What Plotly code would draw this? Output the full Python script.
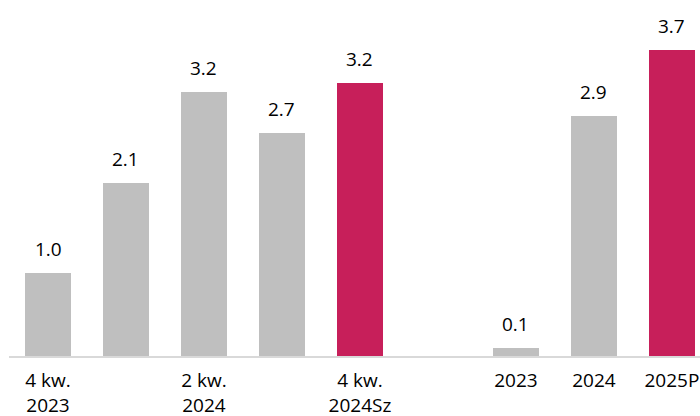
import plotly.graph_objects as go

categories = ["4 kw.<br>2023", " ", "2 kw.<br>2024", "  ", "4 kw.<br>2024Sz", "   ", "2023", "2024", "2025P"]
heights = [1.0, 2.1, 3.2, 2.7, 3.3, None, 0.1, 2.9, 3.7]
labels = ["1.0", "2.1", "3.2", "2.7", "3.2", "", "0.1", "2.9", "3.7"]
highlight = [False, False, False, False, True, False, False, False, True]

GREY = "#BFBFBF"
RED = "#C71F5A"
FONT = "Open Sans"

colors = [RED if h else GREY for h in highlight]
xs = list(range(len(categories)))

fig = go.Figure()
fig.add_trace(go.Bar(
    x=xs, y=heights, marker=dict(color=colors, line=dict(width=0)),
    width=0.58, hoverinfo="skip",
))

for x, h, t in zip(xs, heights, labels):
    if h is None or not t:
        continue
    fig.add_annotation(
        x=x, y=h, text=t, showarrow=False, yanchor="bottom",
        yshift=9, font=dict(family=FONT, size=19, color="#000000"),
    )

fig.update_layout(
    width=700, height=416,
    margin=dict(l=9, r=0, t=9, b=60, autoexpand=False),
    paper_bgcolor="white", plot_bgcolor="white",
    showlegend=False,
    bargap=0,
)
fig.update_xaxes(
    tickmode="array", tickvals=xs, ticktext=categories,
    range=[-0.5, 8.36],
    showline=True, linecolor="#D9D9D9", linewidth=2,
    showgrid=False, zeroline=False, ticks="",
    tickfont=dict(family=FONT, size=19, color="#000000"),
    ticklabelstandoff=6, automargin=False,
)
fig.update_yaxes(
    range=[0, 4.2], visible=False, showgrid=False, zeroline=False,
    automargin=False,
)

fig.write_html("out.html")
